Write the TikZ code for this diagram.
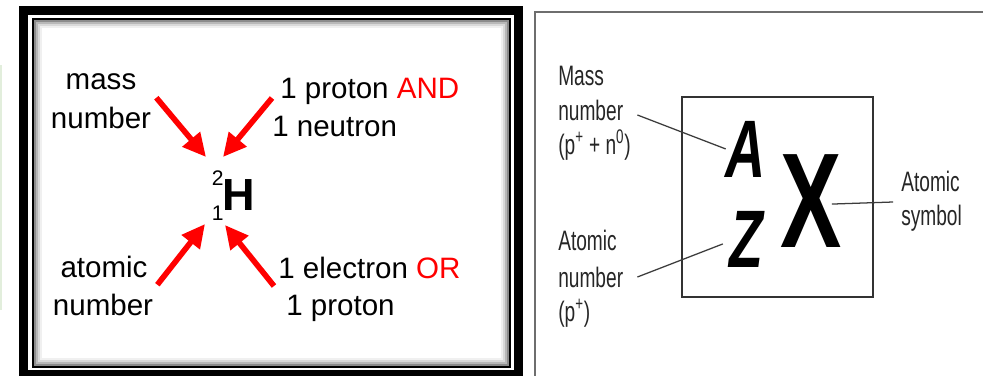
\documentclass[tikz,border=0pt]{standalone}
\usepackage{fontspec}
\setmainfont{Liberation Sans}
\newfontfamily\condfont[FakeStretch=0.68]{Liberation Sans}
\usepackage{tikz}
\usetikzlibrary{calc, positioning, arrows.meta}
\definecolor{framegray}{RGB}{110,110,110}
\definecolor{fadegreen}{RGB}{226,238,220}
\definecolor{leadgray} {RGB}{60, 60, 60}

\tikzset{
  lbl/.style={inner sep=0pt, font=\fontsize{21}{28}\selectfont},
  condlbl/.style={inner sep=0pt, text=black!85, font=\condfont\fontsize{20}{25}\selectfont},
  redarrow/.style={draw=red, line width=4pt, -{Triangle[length=5.8mm, width=5.5mm]}},
  leader/.style={draw=leadgray, line width=0.9pt},
}

\begin{document}
\begin{tikzpicture}[x=0.025cm, y=-0.025cm]
  \useasboundingbox (0,0) rectangle (983,375);
  \fill[white] (0,0) rectangle (983,375);
  \draw[fadegreen, line width=1pt] (1,65) -- (1,310);

  % left panel: framed H symbol
  \draw[line width=0.225cm] (23.5,10.5) rectangle (518.5,374.5);
  \draw[line width=1.2pt] (33,19) rectangle (510,367);
  \foreach \off/\shade in {2/45, 4/28, 6/15, 8/6}
    \draw[black!\shade, line width=0.05cm] (33+\off,19+\off) rectangle (510-\off,367-\off);

  \node[lbl, anchor=base] (massA) at (101,89) {mass};
  \node[lbl, anchor=base] (massB) at (101,128) {number};
  \node[lbl, anchor=base west] (protA) at (280,98) {1 proton \textcolor{red}{AND}};
  \node[lbl, anchor=base west] (protB) at (272,136) {1 neutron};
  \node[lbl, anchor=base] (atomA) at (104,277) {atomic};
  \node[lbl, anchor=base] (atomB) at (103,315) {number};
  \node[lbl, anchor=base west] (elecA) at (278,278) {1 electron \textcolor{red}{OR}};
  \node[lbl, anchor=base west] (elecB) at (286,315) {1 proton};

  \node[inner sep=0pt, anchor=base, font=\fontsize{32}{32}\selectfont\bfseries] (hsym) at (239,210) {H};
  \node[inner sep=0pt, anchor=base east, font=\fontsize{15}{15}\selectfont] (hmass) at (224,185) {2};
  \node[inner sep=0pt, anchor=base east, font=\fontsize{15}{15}\selectfont] (hatom) at (224,220) {1};

  \coordinate (tipMass) at (206,157);
  \coordinate (tipProt) at (223,157);
  \coordinate (tipAtom) at (205,224);
  \coordinate (tipElec) at (225,225);

  \draw[redarrow] ([shift={(5,-8.6)}]massB.north east) -- (tipMass);
  \draw[redarrow] ([shift={(-8,0)}]protA.base west) -- (tipProt);
  \draw[redarrow] ([shift={(4,-8.6)}]atomB.north east) -- (tipAtom);
  \draw[redarrow] ([shift={(-4,8)}]elecA.base west) -- (tipElec);

  % right panel: A Z X notation
  \draw[framegray, line width=0.05cm] (535,380) -- (535,12) -- (990,12);
  \draw[black!80, line width=0.04cm] (682,97) rectangle (873,297);

  \node[inner sep=0pt, anchor=base, font=\condfont\fontsize{58}{58}\selectfont\bfseries\itshape] (letA) at (746,177) {A};
  \node[inner sep=0pt, anchor=base, font=\condfont\fontsize{58}{58}\selectfont\bfseries\itshape] (letZ) at (746,267) {Z};
  \node[inner sep=0pt, anchor=base, font=\condfont\fontsize{96}{96}\selectfont\bfseries] (letX) at (811,247) {X};

  \node[condlbl, anchor=base west] (massR1) at (558,85) {Mass};
  \node[condlbl, anchor=base west] (massR2) at (558,120) {number};
  \node[condlbl, anchor=base west] (massR3) at (558,154) {(p\textsuperscript{+} + n\textsuperscript{0})};
  \node[condlbl, anchor=base west] (atomR1) at (558,250) {Atomic};
  \node[condlbl, anchor=base west] (atomR2) at (558,287) {number};
  \node[condlbl, anchor=base west] (atomR3) at (558,321) {(p\textsuperscript{+})};
  \node[condlbl, anchor=base west] (symR1) at (901,191) {Atomic};
  \node[condlbl, anchor=base west] (symR2) at (901,225) {symbol};

  \draw[leader] ([shift={(14,-5)}]massR2.base east) -- (letA.west);
  \draw[leader] ([shift={(14,-10)}]atomR2.base east) -- ([shift={(-6,5)}]letZ.west);
  \draw[leader] ([shift={(-10,3.5)}]letX.east) -- ([shift={(-8,11)}]symR1.base west);
\end{tikzpicture}
\end{document}
